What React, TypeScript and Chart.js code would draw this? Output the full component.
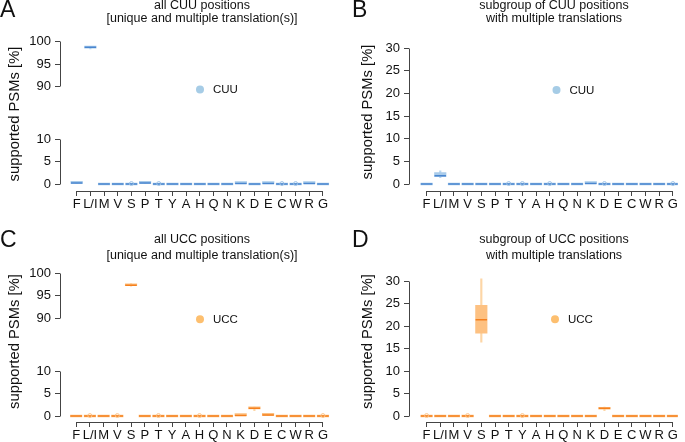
import React, { useEffect, useRef } from 'react';
import { Chart, registerables } from 'chart.js';

Chart.register(...registerables);
Chart.defaults.font.family = "'Liberation Sans', Arial, sans-serif";

// ---------- data ----------
const categories = ['F', 'L/I', 'M', 'V', 'S', 'P', 'T', 'Y', 'A', 'H', 'Q', 'N', 'K', 'D', 'E', 'C', 'W', 'R', 'G'];

// each entry: [lower whisker, q1, median, q3, upper whisker] in %
const cuuAll: number[][] = [
  [0.1, 0.15, 0.2, 0.25, 0.3], [98.4, 98.6, 98.8, 98.9, 99.0], [0, 0, 0, 0, 0], [0, 0, 0, 0, 0],
  [0, 0, 0, 0, 0], [0.1, 0.15, 0.2, 0.25, 0.3], [0, 0, 0, 0, 0], [0, 0, 0, 0, 0],
  [0, 0, 0, 0, 0], [0, 0, 0, 0, 0], [0, 0, 0, 0, 0], [0, 0, 0, 0, 0],
  [0.05, 0.1, 0.1, 0.15, 0.2], [0, 0, 0, 0, 0], [0.05, 0.1, 0.1, 0.15, 0.2], [0, 0, 0, 0, 0],
  [0, 0, 0, 0, 0], [0.05, 0.1, 0.1, 0.15, 0.2], [0, 0, 0, 0, 0],
];
const cuuAllOutliers: [string, number][] = [['S', 0.1], ['T', 0.1], ['C', 0.1], ['W', 0.1]];

const cuuMulti: number[][] = [
  [0, 0, 0, 0, 0], [1.4, 1.6, 1.8, 2.5, 2.9], [0, 0, 0, 0, 0], [0, 0, 0, 0, 0],
  [0, 0, 0, 0, 0], [0, 0, 0, 0, 0], [0, 0, 0, 0, 0], [0, 0, 0, 0, 0],
  [0, 0, 0, 0, 0], [0, 0, 0, 0, 0], [0, 0, 0, 0, 0], [0, 0, 0, 0, 0],
  [0.05, 0.1, 0.1, 0.15, 0.2], [0, 0, 0, 0, 0], [0, 0, 0, 0, 0], [0, 0, 0, 0, 0],
  [0, 0, 0, 0, 0], [0, 0, 0, 0, 0], [0, 0, 0, 0, 0],
];
const cuuMultiOutliers: [string, number][] = [['T', 0.1], ['Y', 0.1], ['H', 0.1], ['D', 0.1], ['G', 0.1]];

const uccAll: number[][] = [
  [0, 0, 0, 0, 0], [0, 0, 0, 0, 0], [0, 0, 0, 0, 0], [0, 0, 0, 0, 0],
  [97.1, 97.2, 97.3, 97.4, 97.7], [0, 0, 0, 0, 0], [0, 0, 0, 0, 0], [0, 0, 0, 0, 0],
  [0, 0, 0, 0, 0], [0, 0, 0, 0, 0], [0, 0, 0, 0, 0], [0, 0, 0, 0, 0],
  [0.05, 0.1, 0.1, 0.15, 0.2], [1.2, 1.6, 1.7, 1.8, 2.0], [0.1, 0.15, 0.2, 0.25, 0.3], [0, 0, 0, 0, 0],
  [0, 0, 0, 0, 0], [0, 0, 0, 0, 0], [0, 0, 0, 0, 0],
];
const uccAllOutliers: [string, number][] = [['L/I', 0.1], ['V', 0.1], ['T', 0.1], ['H', 0.1], ['G', 0.1]];

const uccMulti: number[][] = [
  [0, 0, 0, 0, 0], [0, 0, 0, 0, 0], [0, 0, 0, 0, 0], [0, 0, 0, 0, 0],
  [16.4, 18.4, 21.4, 24.6, 30.5], [0, 0, 0, 0, 0], [0, 0, 0, 0, 0], [0, 0, 0, 0, 0],
  [0, 0, 0, 0, 0], [0, 0, 0, 0, 0], [0, 0, 0, 0, 0], [0, 0, 0, 0, 0],
  [0, 0, 0, 0, 0], [1.2, 1.5, 1.7, 1.9, 2.0], [0, 0, 0, 0, 0], [0, 0, 0, 0, 0],
  [0, 0, 0, 0, 0], [0, 0, 0, 0, 0], [0, 0, 0, 0, 0],
];
const uccMultiOutliers: [string, number][] = [['F', 0.1], ['V', 0.1], ['Y', 0.1]];

const brokenTicks = [0, 5, 10, 90, 95, 100];
const fullTicks = [0, 5, 10, 15, 20, 25, 30];

// ---------- styling ----------
const blue = { box: '#a9cbea', med: '#4a86cf', whisker: '#b9d5ee', out: '#9fc3e6', legend: '#a6cce6' };
const orange = { box: '#fdc182', med: '#f5801e', whisker: '#fdd6a6', out: '#fcc58c', legend: '#fdbf6f' };

interface PanelCfg {
  letter: string;
  title: string[];
  legend: string;
  boxes: number[][];
  outliers: [string, number][];
  yTicks: number[];
  broken: boolean;
  breakAt: number;
  colors: typeof blue;
  left: number; top: number; w: number; h: number;
  area: { l: number; r: number; t: number; b: number };
  x0: number; dx: number;
  yZero: number; pxPerUnit: number;
  letterPos: [number, number];
  titleX: number; titleY: number[];
  yLabelPos: [number, number];
  legendPos: [number, number];
}

const panels: PanelCfg[] = [
  {
    letter: 'A', title: ['all CUU positions', '[unique and multiple translation(s)]'], legend: 'CUU',
    boxes: cuuAll, outliers: cuuAllOutliers, yTicks: brokenTicks, broken: true, breakAt: 21.6, colors: blue,
    left: 0, top: 0, w: 342, h: 216, area: { l: 60, r: 340, t: 36, b: 191 },
    x0: 77, dx: 13.944, yZero: 184, pxPerUnit: 4.5,
    letterPos: [0, 17], titleX: 202, titleY: [6, 19], yLabelPos: [15, 114], legendPos: [200, 89.5],
  },
  {
    letter: 'B', title: ['subgroup of CUU positions', 'with multiple translations'], legend: 'CUU',
    boxes: cuuMulti, outliers: cuuMultiOutliers, yTicks: fullTicks, broken: false, breakAt: 0, colors: blue,
    left: 342, top: 0, w: 343, h: 216, area: { l: 67, r: 342, t: 36, b: 191 },
    x0: 85, dx: 14, yZero: 184, pxPerUnit: 4.533,
    letterPos: [10, 17], titleX: 212, titleY: [6, 19], yLabelPos: [25.5, 112], legendPos: [214.5, 90],
  },
  {
    letter: 'C', title: ['all UCC positions', '[unique and multiple translation(s)]'], legend: 'UCC',
    boxes: uccAll, outliers: uccAllOutliers, yTicks: brokenTicks, broken: true, breakAt: 21.75, colors: orange,
    left: 0, top: 216, w: 342, h: 226, area: { l: 60, r: 340, t: 50, b: 206 },
    x0: 76.5, dx: 13.97, yZero: 200, pxPerUnit: 4.5,
    letterPos: [0, 31], titleX: 202, titleY: [24, 39.5], yLabelPos: [15, 125.5], legendPos: [200, 103.3],
  },
  {
    letter: 'D', title: ['subgroup of UCC positions', 'with multiple translations'], legend: 'UCC',
    boxes: uccMulti, outliers: uccMultiOutliers, yTicks: fullTicks, broken: false, breakAt: 0, colors: orange,
    left: 342, top: 216, w: 343, h: 226, area: { l: 67, r: 342, t: 50, b: 206 },
    x0: 85, dx: 14, yZero: 200, pxPerUnit: 4.5,
    letterPos: [10, 31], titleX: 212, titleY: [24, 39.5], yLabelPos: [26, 125.5], legendPos: [213, 103.3],
  },
];

const TEXT = '#111111';
const AXIS = '#444444';
const FONT = "'Liberation Sans', Arial, sans-serif";

function Panel({ cfg }: { cfg: PanelCfg }) {
  const ref = useRef<HTMLCanvasElement>(null);

  useEffect(() => {
    const tf = (v: number) => (cfg.broken && v > 50 ? v - 90 + cfg.breakAt : v);
    const { area } = cfg;
    const xMin = (area.l - cfg.x0) / cfg.dx;
    const xMax = (area.r - cfg.x0) / cfg.dx;
    const yMin = -(area.b - cfg.yZero) / cfg.pxPerUnit;
    const yMax = (cfg.yZero - area.t) / cfg.pxPerUnit;

    const decor = {
      id: 'decor',
      afterDraw(chart: any) {
        const ctx = chart.ctx as CanvasRenderingContext2D;
        const xs = chart.scales.x;
        const ys = chart.scales.y;
        const ca = chart.chartArea;
        const al = (p: number) => Math.round(p - 0.5) + 0.5;
        ctx.save();
        ctx.strokeStyle = AXIS;
        ctx.lineWidth = 1;
        // x axis line, first to last tick
        ctx.beginPath();
        ctx.moveTo(al(xs.getPixelForValue(0)), al(ca.bottom));
        ctx.lineTo(al(xs.getPixelForValue(categories.length - 1)), al(ca.bottom));
        ctx.stroke();
        // y axis segments
        const segs = cfg.broken ? [[0, 10], [90, 100]] : [[0, 30]];
        for (const [a, b] of segs) {
          ctx.beginPath();
          ctx.moveTo(al(ca.left), al(ys.getPixelForValue(tf(a))));
          ctx.lineTo(al(ca.left), al(ys.getPixelForValue(tf(b))));
          ctx.stroke();
        }
        // panel letter
        ctx.fillStyle = TEXT;
        ctx.textBaseline = 'alphabetic';
        ctx.textAlign = 'left';
        ctx.font = `23px ${FONT}`;
        ctx.fillText(cfg.letter, cfg.letterPos[0], cfg.letterPos[1]);
        // title
        ctx.font = `12.5px ${FONT}`;
        ctx.textAlign = 'center';
        ctx.textBaseline = 'middle';
        cfg.title.forEach((t, i) => ctx.fillText(t, cfg.titleX, cfg.titleY[i]));
        // y label
        ctx.save();
        ctx.translate(cfg.yLabelPos[0], cfg.yLabelPos[1]);
        ctx.rotate(-Math.PI / 2);
        ctx.font = `14.8px ${FONT}`;
        ctx.fillText('supported PSMs [%]', 0, 0);
        ctx.restore();
        // legend
        ctx.beginPath();
        ctx.fillStyle = cfg.colors.legend;
        ctx.arc(cfg.legendPos[0], cfg.legendPos[1], 4, 0, Math.PI * 2);
        ctx.fill();
        ctx.fillStyle = TEXT;
        ctx.textAlign = 'left';
        ctx.font = `11.5px ${FONT}`;
        ctx.fillText(cfg.legend, cfg.legendPos[0] + 13, cfg.legendPos[1] + 0.5);
        ctx.restore();
      },
    };

    const outlierPts = cfg.outliers.map(([c, v]) => ({ x: categories.indexOf(c), y: tf(v) }));

    const chart = new Chart(ref.current!, {
      type: 'bar',
      data: {
        datasets: [
          {
            type: 'bar',
            data: cfg.boxes.map((b, i) => ({ x: i, y: [tf(b[0]), tf(b[4])] })) as any,
            backgroundColor: cfg.colors.whisker,
            barThickness: 1.5,
            grouped: false,
            borderWidth: 0,
            order: 4,
          } as any,
          {
            type: 'bar',
            data: cfg.boxes.map((b, i) => ({ x: i, y: [tf(b[1]), tf(b[3])] })) as any,
            backgroundColor: cfg.colors.box,
            barThickness: 11.5,
            minBarLength: 2,
            grouped: false,
            borderWidth: 0,
            order: 3,
          } as any,
          {
            type: 'line',
            data: cfg.boxes.map((b, i) => ({ x: i, y: tf(b[2]) })),
            showLine: false,
            pointStyle: 'line',
            pointRadius: 5.75,
            pointBorderWidth: 1.5,
            pointBorderColor: cfg.colors.med,
            pointBackgroundColor: cfg.colors.med,
            order: 2,
          } as any,
          {
            type: 'line',
            data: outlierPts,
            showLine: false,
            pointStyle: 'circle',
            pointRadius: 2,
            pointBorderWidth: 1,
            pointBorderColor: cfg.colors.out,
            pointBackgroundColor: 'rgba(255,255,255,0)',
            order: 1,
          } as any,
        ],
      },
      options: {
        animation: false,
        responsive: false,
        devicePixelRatio: 1,
        layout: { padding: { left: 0, top: area.t, right: cfg.w - area.r, bottom: 0 } },
        plugins: { legend: { display: false }, tooltip: { enabled: false }, title: { display: false } },
        scales: {
          x: {
            type: 'linear',
            offset: false,
            min: xMin,
            max: xMax,
            afterFit: (s: any) => { s.height = cfg.h - area.b; },
            afterBuildTicks: (s: any) => { s.ticks = categories.map((_, i) => ({ value: i })); },
            ticks: {
              autoSkip: false,
              maxRotation: 0,
              minRotation: 0,
              padding: 0.5,
              color: TEXT,
              font: { size: 13 },
              callback: (_v: any, i: number) => categories[i],
            },
            grid: { offset: false, drawOnChartArea: false, drawTicks: true, tickLength: 5, color: AXIS, lineWidth: 1 },
            border: { display: false },
          },
          y: {
            type: 'linear',
            min: yMin,
            max: yMax,
            afterFit: (s: any) => { s.width = area.l; },
            afterBuildTicks: (s: any) => { s.ticks = cfg.yTicks.map((v) => ({ value: tf(v) })); },
            ticks: {
              autoSkip: false,
              padding: 4,
              color: TEXT,
              font: { size: 13 },
              callback: (_v: any, i: number) => String(cfg.yTicks[i]),
            },
            grid: { drawOnChartArea: false, drawTicks: true, tickLength: 5, color: AXIS, lineWidth: 1 },
            border: { display: false },
          },
        } as any,
      },
      plugins: [decor],
    } as any);

    return () => chart.destroy();
  }, [cfg]);

  return (
    <canvas
      ref={ref}
      width={cfg.w}
      height={cfg.h}
      style={{ position: 'absolute', left: cfg.left, top: cfg.top, width: cfg.w, height: cfg.h }}
    />
  );
}

export default function App() {
  return (
    <div style={{ position: 'fixed', left: 0, top: 0, width: 685, height: 442, background: '#fff' }}>
      {panels.map((p) => (
        <Panel key={p.letter} cfg={p} />
      ))}
    </div>
  );
}
